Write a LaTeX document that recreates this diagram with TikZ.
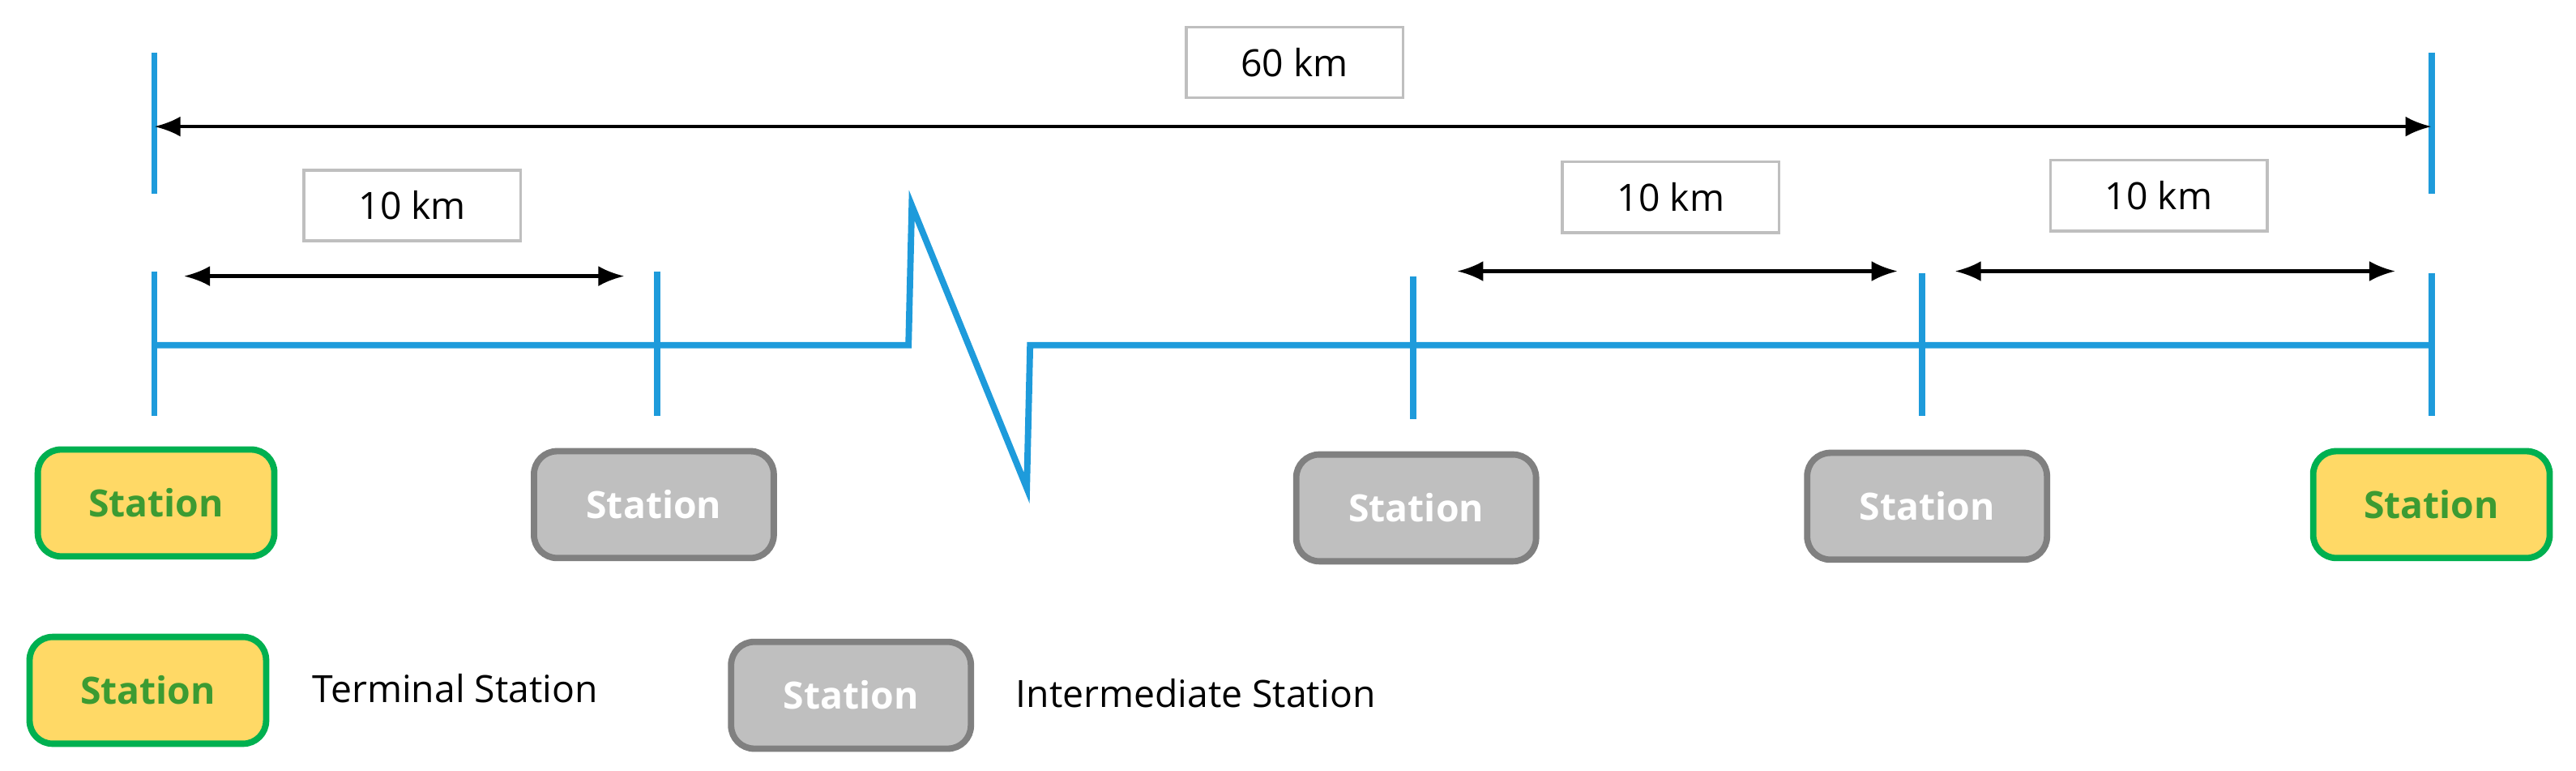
\documentclass[tikz,border=0pt]{standalone}
\usepackage{fontspec}
\setmainfont{Open Sans}
\usetikzlibrary{arrows.meta}
\definecolor{trk}{HTML}{1E9BDB}
\definecolor{yel}{HTML}{FFD966}
\definecolor{grn}{HTML}{00B050}
\definecolor{gtx}{HTML}{3C9B32}
\definecolor{gfill}{HTML}{BFBFBF}
\definecolor{gbord}{HTML}{808080}
\tikzset{
 px/.style={x=0.02cm,y=-0.02cm},
 trk/.style={draw=trk,line width=2.2pt},
 dim/.style={black,line width=1.2pt,{Latex[length=9pt,width=7pt]}-{Latex[length=9pt,width=7pt]}},
 lbl/.style={draw=gfill,line width=1pt,fill=white,minimum width=2.64cm,minimum height=0.86cm,font=\fontsize{13}{15}\selectfont,inner sep=0pt},
 term/.style={draw=grn,fill=yel,line width=2.2pt,rounded corners=8pt,minimum width=2.88cm,minimum height=1.3cm,text=gtx,font=\bfseries\fontsize{13}{15}\selectfont,inner sep=0pt},
 inter/.style={draw=gbord,fill=gfill,line width=2.2pt,rounded corners=8pt,minimum width=2.92cm,minimum height=1.3cm,text=white,font=\bfseries\fontsize{13}{15}\selectfont,inner sep=0pt},
 leg/.style={anchor=west,font=\fontsize{13}{15}\selectfont,inner sep=0pt}
}
\begin{document}
\begin{tikzpicture}[px]
\useasboundingbox (0,0) rectangle (1568,469);
% long ticks
\coordinate (A1) at (94,32); \coordinate (A2) at (94,118);
\coordinate (B1) at (1480,32); \coordinate (B2) at (1480,118);
\draw[trk] (A1) -- (A2); \draw[trk] (B1) -- (B2);
\coordinate (LA) at (94,77); \coordinate (LB) at (1480,77);
\draw[dim] (LA) -- (LB);
\node[lbl] (L60) at (788,38) {60 km};
% station ticks
\foreach \n/\x/\a/\b in {t1/94/165/253,t2/400/165/253,t3/860/168/255,t4/1170/166/253,t5/1480/166/253}{
  \coordinate (\n a) at (\x,\a); \coordinate (\n b) at (\x,\b);
  \draw[trk] (\n a) -- (\n b);}
% track with break
\coordinate (z0) at (94,210); \coordinate (z1) at (553,210); \coordinate (z2) at (555,125);
\coordinate (z3) at (625,297); \coordinate (z4) at (627,210); \coordinate (z5) at (1480,210);
\draw[trk,line join=miter] (z0) -- (z1) -- (z2) -- (z3) -- (z4) -- (z5);
% 10 km dims
\coordinate (d1a) at (112,168); \coordinate (d1b) at (380,168);
\coordinate (d2a) at (887,165); \coordinate (d2b) at (1155,165);
\coordinate (d3a) at (1190,165); \coordinate (d3b) at (1458,165);
\draw[dim] (d1a) -- (d1b); \draw[dim] (d2a) -- (d2b); \draw[dim] (d3a) -- (d3b);
\node[lbl] (L1) at (251,125) {10 km};
\node[lbl] (L2) at (1017,120) {10 km};
\node[lbl] (L3) at (1314,119) {10 km};
% stations
\node[term] (S1) at (95,306) {Station};
\node[inter] (S2) at (398,307) {Station};
\node[inter] (S3) at (862,309) {Station};
\node[inter] (S4) at (1173,308) {Station};
\node[term] (S5) at (1480,307) {Station};
% legend
\node[term] (G1) at (90,420) {Station};
\node[leg] (G1t) at (190,419) {Terminal Station};
\node[inter] (G2) at (518,423) {Station};
\node[leg] (G2t) at (618,422) {Intermediate Station};
\end{tikzpicture}
\end{document}
